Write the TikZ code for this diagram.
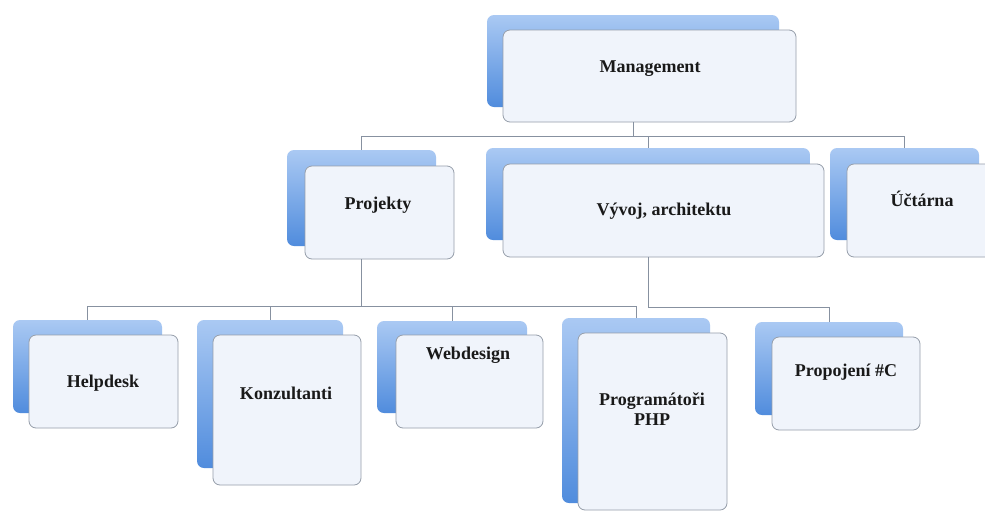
\documentclass[tikz,border=0pt]{standalone}
\usepackage{fontspec}
\setmainfont{Liberation Serif}
\definecolor{bluetop}{RGB}{170,201,243}
\definecolor{bluebot}{RGB}{80,140,221}
\definecolor{frontfill}{RGB}{240,244,251}
\definecolor{frontline}{RGB}{150,158,170}
\definecolor{connline}{RGB}{135,145,160}
\tikzset{
  back/.style={draw=none, rounded corners=7pt, top color=bluetop, bottom color=bluebot, inner sep=0pt},
  front/.style={draw=frontline, line width=0.8pt, rounded corners=7pt, fill=frontfill, inner sep=0pt},
  lbl/.style={font=\fontsize{18}{20}\selectfont\bfseries, text=black!90, align=center, inner sep=0pt},
  conn/.style={draw=connline, line width=0.8pt}
}
\begin{document}
\begin{tikzpicture}[x=1pt,y=-1pt]
\useasboundingbox[fill=white] (0,0) rectangle (985,512);
% Management
\node[back, minimum width=292pt, minimum height=92pt] (mb) at (633,61) {};
\node[front, minimum width=293pt, minimum height=92pt] (m) at (649.5,76) {};
\node[lbl] (mt) at (650,69) {Management};
% Projekty
\node[back, minimum width=149pt, minimum height=96pt] (pb) at (361.5,198) {};
\node[front, minimum width=149pt, minimum height=93pt] (p) at (379.5,212.5) {};
\node[lbl] (pt) at (378,205) {Projekty};
% Vyvoj
\node[back, minimum width=324pt, minimum height=92pt] (vb) at (648,194) {};
\node[front, minimum width=321pt, minimum height=93pt] (v) at (663.5,210.5) {};
\node[lbl] (vt) at (664,211) {Vývoj, architektu};
% Uctarna
\node[back, minimum width=149pt, minimum height=92pt] (ub) at (904.5,194) {};
\node[front, minimum width=150pt, minimum height=93pt] (u) at (922,210.5) {};
\node[lbl] (ut) at (922,199) {Účtárna};
% Helpdesk
\node[back, minimum width=149pt, minimum height=93pt] (hb) at (87.5,366.5) {};
\node[front, minimum width=149pt, minimum height=93pt] (h) at (103.5,381.5) {};
\node[lbl] (ht) at (103,383) {Helpdesk};
% Konzultanti
\node[back, minimum width=146pt, minimum height=148pt] (kb) at (270,394) {};
\node[front, minimum width=148pt, minimum height=150pt] (k) at (287,410) {};
\node[lbl] (kt) at (286,393) {Konzultanti};
% Webdesign
\node[back, minimum width=150pt, minimum height=92pt] (wb) at (452,367) {};
\node[front, minimum width=147pt, minimum height=93pt] (w) at (469.5,381.5) {};
\node[lbl] (wt) at (468,355) {Webdesign};
% Programatori PHP
\node[back, minimum width=148pt, minimum height=185pt] (gb) at (636,410.5) {};
\node[front, minimum width=149pt, minimum height=177pt] (g) at (652.5,421.5) {};
\node[lbl] (gt) at (652,409) {Programátoři\\PHP};
% Propojeni
\node[back, minimum width=148pt, minimum height=93pt] (rb) at (829,368.5) {};
\node[front, minimum width=148pt, minimum height=93pt] (r) at (846,383.5) {};
\node[lbl] (rt) at (846,372) {Propojení \#C};
% buses
\coordinate (bus1) at (0,136);
\coordinate (bus2) at (0,306);
\coordinate (bus3) at (0,307);
% connectors from Management
\draw[conn] (mb.center |- m.south) -- (mb.center |- bus1);
\draw[conn] (pb.north |- bus1) -- (ub.north |- bus1);
\draw[conn] (pb.north |- bus1) -- (pb.north);
\draw[conn] (vb.north |- bus1) -- (vb.north);
\draw[conn] (ub.north |- bus1) -- (ub.north);
% connectors from Projekty
\draw[conn] (pb.center |- p.south) -- (pb.center |- bus2);
\draw[conn] (hb.north |- bus2) -- (gb.north |- bus2);
\draw[conn] (hb.north |- bus2) -- (hb.north);
\draw[conn] (kb.north |- bus2) -- (kb.north);
\draw[conn] (wb.north |- bus2) -- (wb.north);
\draw[conn] (gb.north |- bus2) -- (gb.north);
% connectors from Vyvoj
\draw[conn] (vb.center |- v.south) -- (vb.center |- bus3) -- (rb.north |- bus3) -- (rb.north);
\end{tikzpicture}
\end{document}
